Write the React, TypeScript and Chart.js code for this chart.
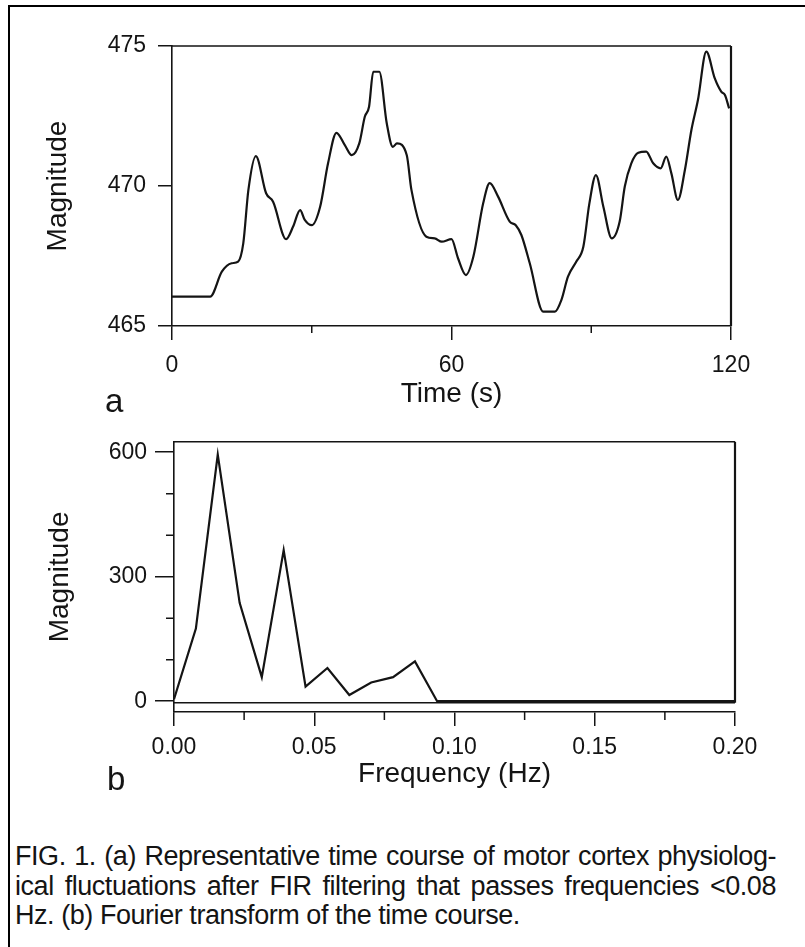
import { useEffect, useRef } from 'react';
import { Chart, registerables } from 'chart.js';

Chart.register(...registerables);

const INK = '#141414';
const FONT = '"Liberation Sans", Arial, Helvetica, sans-serif';

// Panel a: filtered time course (seconds, magnitude)
const timeSeconds = [
  0, 8.2, 10.7, 12.8, 14.2, 15.3, 16.4, 18.0, 20.2, 21.7, 24.5, 26.0, 27.5, 28.5, 30.0,
  31.8, 33.5, 35.3, 37.1, 38.6, 40.2, 41.4, 42.3, 43.2, 44.5, 46.1, 47.4, 48.3, 50.4,
  51.4, 54.6, 56.4, 57.9, 60.0, 61.4, 63.1, 64.7, 66.8, 68.2, 70.0, 72.5, 73.8, 75.0,
  76.8, 79.7, 82.2, 83.6, 85.0, 86.8, 88.3, 89.6, 91.0, 92.6, 94.4, 96.1, 97.2, 98.6,
  100.1, 101.8, 103.3, 104.9, 106.1, 107.2, 108.6, 110.1, 111.5, 112.9, 114.7, 116.5,
  117.9, 118.7, 119.6,
];
const timeMagnitude = [
  466.05, 466.05, 466.94, 467.24, 467.3, 467.95, 469.86, 471.07, 469.74, 469.44, 468.1,
  468.55, 469.14, 468.79, 468.6, 469.26, 470.81, 471.9, 471.46, 471.1, 471.52, 472.48,
  472.83, 474.08, 474.08, 472.24, 471.4, 471.52, 471.1, 469.86, 468.19, 468.13, 468.01,
  468.1, 467.42, 466.82, 467.48, 469.38, 470.1, 469.62, 468.73, 468.6, 468.25, 467.24,
  465.51, 465.51, 465.93, 466.76, 467.3, 467.83, 469.38, 470.39, 469.26, 468.13, 468.73,
  469.98, 470.81, 471.19, 471.23, 470.81, 470.63, 471.05, 470.45, 469.5, 470.57, 472.0,
  473.07, 474.8, 473.85, 473.37, 473.25, 472.77,
];
const timeTicks = [0, 60, 120];
const timeMinorTicks = [30, 90];
const magTicksA = [465, 470, 475];

// Panel b: Fourier transform of the time course (Hz, magnitude)
const freqHz = [
  0, 0.0078, 0.0156, 0.0234, 0.0313, 0.0391, 0.0469, 0.0547, 0.0625, 0.0703, 0.0781,
  0.0859, 0.0938, 0.2,
];
const freqMagnitude = [5, 175, 594, 237, 58, 364, 35, 80, 15, 45, 58, 96, 0, 0];
const freqTicks = [0, 0.05, 0.1, 0.15, 0.2];
const freqMinorTicks = [0.025, 0.075, 0.125, 0.175];
const magTicksB = [0, 300, 600];
const magMinorTicksB = [100, 200, 400, 500];

const captionLines = [
  'FIG. 1. (a) Representative time course of motor cortex physiolog-',
  'ical fluctuations after FIR filtering that passes frequencies <0.08',
  'Hz. (b) Fourier transform of the time course.',
];

// Draws the top/right edges of the plot box, an optional baseline at zero
// and the short minor tick marks on both axes.
function makeFramePlugin(xMinor: number[], yMinor: number[], minorLen: number, zeroBase: boolean) {
  return {
    id: 'panelFrame',
    afterDraw(chart: any) {
      const { ctx, chartArea: a } = chart;
      const xs = chart.scales.x;
      const ys = chart.scales.y;
      const boxBottom = zeroBase ? ys.getPixelForValue(0) + 1.5 : a.bottom;
      ctx.save();
      ctx.strokeStyle = INK;
      ctx.lineWidth = 1.5;
      ctx.beginPath();
      ctx.moveTo(a.left, a.top);
      ctx.lineTo(a.right, a.top);
      if (zeroBase) {
        ctx.moveTo(a.left, boxBottom);
        ctx.lineTo(a.right, boxBottom);
      }
      for (const v of xMinor) {
        const px = xs.getPixelForValue(v);
        ctx.moveTo(px, a.bottom);
        ctx.lineTo(px, a.bottom + minorLen);
      }
      for (const v of yMinor) {
        const py = ys.getPixelForValue(v);
        ctx.moveTo(a.left, py);
        ctx.lineTo(a.left - minorLen, py);
      }
      ctx.stroke();
      ctx.lineWidth = 2.2;
      ctx.beginPath();
      ctx.moveTo(a.right, a.top);
      ctx.lineTo(a.right, boxBottom);
      ctx.stroke();
      ctx.restore();
    },
  };
}

function axisBase(tickLen: number) {
  return {
    grid: { drawOnChartArea: false, drawTicks: true, tickLength: tickLen, color: INK, lineWidth: 1.5 },
    border: { display: true, color: INK, width: 1.6 },
  };
}

function TimeCourseChart() {
  const ref = useRef<HTMLCanvasElement | null>(null);
  useEffect(() => {
    if (!ref.current) return;
    const chart = new Chart(ref.current, {
      type: 'line',
      data: {
        datasets: [
          {
            data: timeSeconds.map((t, i) => ({ x: t, y: timeMagnitude[i] })),
            borderColor: INK,
            borderWidth: 2.2,
            pointRadius: 0,
            cubicInterpolationMode: 'monotone',
            fill: false,
          },
        ],
      },
      options: {
        responsive: false,
        animation: false,
        events: [],
        layout: { padding: { top: 46, left: 0, right: 74, bottom: 0 } },
        plugins: { legend: { display: false }, tooltip: { enabled: false } },
        scales: {
          x: {
            type: 'linear',
            min: 0,
            max: 120,
            afterBuildTicks: (s: any) => {
              s.ticks = timeTicks.map((value) => ({ value }));
            },
            afterFit: (s: any) => {
              s.height = 94;
            },
            ticks: {
              font: { family: FONT, size: 23 },
              color: INK,
              padding: 12,
              maxRotation: 0,
              autoSkip: false,
              callback: (v: any) => String(v),
            },
            ...axisBase(14),
            title: {
              display: true,
              text: 'Time (s)',
              font: { family: FONT, size: 28 },
              color: INK,
              padding: { top: 0, bottom: 9 },
            },
          },
          y: {
            type: 'linear',
            min: 465,
            max: 475,
            afterBuildTicks: (s: any) => {
              s.ticks = magTicksA.map((value) => ({ value }));
            },
            afterFit: (s: any) => {
              s.width = 172;
            },
            ticks: {
              font: { family: FONT, size: 23 },
              color: INK,
              padding: 12,
              callback: (v: any) => String(v),
            },
            ...axisBase(14),
            title: {
              display: true,
              text: 'Magnitude',
              font: { family: FONT, size: 28 },
              color: INK,
              padding: { top: 41, bottom: 0 },
            },
          },
        },
      },
      plugins: [makeFramePlugin(timeMinorTicks, [], 7, false)],
    } as any);
    return () => chart.destroy();
  }, []);
  return (
    <canvas
      ref={ref}
      width={805}
      height={420}
      style={{ position: 'absolute', left: 0, top: 0, width: 805, height: 420, display: 'block' }}
    />
  );
}

function SpectrumChart() {
  const ref = useRef<HTMLCanvasElement | null>(null);
  useEffect(() => {
    if (!ref.current) return;
    const chart = new Chart(ref.current, {
      type: 'line',
      data: {
        datasets: [
          {
            data: freqHz.map((f, i) => ({ x: f, y: freqMagnitude[i] })),
            borderColor: INK,
            borderWidth: 2.2,
            pointRadius: 0,
            tension: 0,
            fill: false,
          },
        ],
      },
      options: {
        responsive: false,
        animation: false,
        events: [],
        layout: { padding: { top: 17, left: 0, right: 70, bottom: 0 } },
        plugins: { legend: { display: false }, tooltip: { enabled: false } },
        scales: {
          x: {
            type: 'linear',
            min: 0,
            max: 0.2,
            afterBuildTicks: (s: any) => {
              s.ticks = freqTicks.map((value) => ({ value }));
            },
            afterFit: (s: any) => {
              s.height = 98;
            },
            ticks: {
              font: { family: FONT, size: 23 },
              color: INK,
              padding: 8,
              maxRotation: 0,
              autoSkip: false,
              callback: (v: any) => Number(v).toFixed(2),
            },
            ...axisBase(14),
            title: {
              display: true,
              text: 'Frequency (Hz)',
              font: { family: FONT, size: 28 },
              color: INK,
              padding: { top: 0, bottom: 19 },
            },
          },
          y: {
            type: 'linear',
            min: -26,
            max: 625,
            afterBuildTicks: (s: any) => {
              s.ticks = magTicksB.map((value) => ({ value }));
            },
            afterFit: (s: any) => {
              s.width = 174;
            },
            ticks: {
              font: { family: FONT, size: 23 },
              color: INK,
              padding: 8,
              callback: (v: any) => String(v),
            },
            ...axisBase(19),
            title: {
              display: true,
              text: 'Magnitude',
              font: { family: FONT, size: 28 },
              color: INK,
              padding: { top: 43, bottom: 0 },
            },
          },
        },
      },
      plugins: [makeFramePlugin(freqMinorTicks, magMinorTicksB, 8, true)],
    } as any);
    return () => chart.destroy();
  }, []);
  return (
    <canvas
      ref={ref}
      width={805}
      height={390}
      style={{ position: 'absolute', left: 0, top: 420, width: 805, height: 390, display: 'block' }}
    />
  );
}

const panelLetter: React.CSSProperties = {
  position: 'absolute',
  fontFamily: FONT,
  fontSize: 33,
  lineHeight: 1,
  color: INK,
};

export default function App() {
  return (
    <div
      style={{
        position: 'absolute',
        left: 0,
        top: 0,
        width: 805,
        height: 947,
        background: '#fff',
        overflow: 'hidden',
      }}
    >
      <div
        style={{
          position: 'absolute',
          left: 8,
          top: 5,
          width: 797,
          height: 942,
          borderLeft: '2px solid #000',
          borderTop: '2px solid #000',
          boxSizing: 'border-box',
        }}
      />
      <TimeCourseChart />
      <SpectrumChart />
      <div style={{ ...panelLetter, left: 105, top: 384 }}>a</div>
      <div style={{ ...panelLetter, left: 107, top: 762 }}>b</div>
      <div
        style={{
          position: 'absolute',
          left: 15,
          top: 842,
          width: 761,
          fontFamily: FONT,
          fontSize: 27,
          letterSpacing: '-0.45px',
          lineHeight: '29.5px',
          color: INK,
        }}
      >
        {captionLines.map((line, i) => (
          <div
            key={i}
            style={{
              whiteSpace: 'nowrap',
              textAlign: i < 2 ? 'justify' : 'left',
              textAlignLast: i < 2 ? 'justify' : 'left',
              width: 761,
            }}
          >
            {line}
          </div>
        ))}
      </div>
    </div>
  );
}
